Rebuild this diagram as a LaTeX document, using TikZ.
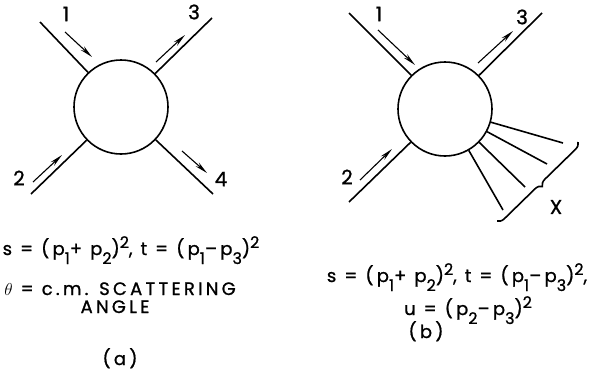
\documentclass[tikz,border=0pt]{standalone}
\usepackage{fontspec}
\setmainfont[LetterSpace=18, FakeBold=1]{Poppins}
\usepackage{tikz}
\usetikzlibrary{arrows.meta,decorations.pathreplacing}
\newcommand{\lo}[1]{\raisebox{-9pt}{\fontsize{16}{16}\selectfont #1}}
\newcommand{\hi}[1]{\raisebox{7pt}{\fontsize{16}{16}\selectfont #1}}

\begin{document}
\begin{tikzpicture}[x=1pt, y=-1pt,
    leg/.style={line width=1.6pt},
    flow/.style={line width=1.1pt, -{Stealth[length=13pt,width=5pt]}},
    blob/.style={circle, draw, line width=1.6pt, minimum size=94pt, inner sep=0pt},
    num/.style={font=\fontsize{20}{20}\selectfont, inner sep=0pt},
    eq/.style={font=\fontsize{18}{20}\selectfont, inner sep=0pt, anchor=base}]
    \useasboundingbox (0,0) rectangle (593,375);

    % (a) two body scattering
    \node[blob] (ca) at (121,107) {};
    \coordinate (a1) at (40,22);
    \coordinate (a2) at (31,194);
    \coordinate (a3) at (212,18);
    \coordinate (a4) at (213,194);
    \draw[leg] (a1) -- (ca);
    \draw[leg] (a2) -- (ca);
    \draw[leg] (a3) -- (ca);
    \draw[leg] (a4) -- (ca);

    % momentum arrows
    \coordinate (fa1s) at (65,32);  \coordinate (fa1e) at (92,57);
    \coordinate (fa2s) at (33,182); \coordinate (fa2e) at (62,155);
    \coordinate (fa3s) at (156,62); \coordinate (fa3e) at (185,35);
    \coordinate (fa4s) at (182,151);\coordinate (fa4e) at (207,173);
    \draw[flow] (fa1s) -- (fa1e);
    \draw[flow] (fa2s) -- (fa2e);
    \draw[flow] (fa3s) -- (fa3e);
    \draw[flow] (fa4s) -- (fa4e);

    \node[num] (na1) at (66,14) {1};
    \node[num] (na2) at (19,178) {2};
    \node[num] (na3) at (194,12) {3};
    \node[num] (na4) at (221,179) {4};

    % (a) text
    \node[eq] (ta1) at (131,255) {s = (p\lo{1}+ p\lo{2})\hi{2}, t = (p\lo{1}--p\lo{3})\hi{2}};
    \node[eq] (ta2) at (120,295) {$\theta$ = c.m. SCATTERING};
    \node[eq] (ta3) at (115,313) {ANGLE};
    \node[eq] (capa) at (120,365) {(a)};

    % (b) inclusive reaction
    \node[blob] (cb) at (445,109) {};
    \coordinate (b1) at (349,13);
    \coordinate (b2) at (349,202);
    \coordinate (b3) at (542,13);
    \draw[leg] (b1) -- (cb);
    \draw[leg] (b2) -- (cb);
    \draw[leg] (b3) -- (cb);

    % fan of X
    \coordinate (x1) at (563,143);
    \coordinate (x2) at (547,164);
    \coordinate (x3) at (525,187);
    \coordinate (x4) at (503,210);
    \foreach \k in {1,...,4}
        \draw[leg] (x\k) -- (cb);

    \coordinate (bt) at (578,142);
    \coordinate (bb) at (497,221);
    \draw[leg, decorate, decoration={brace, amplitude=7pt}] (bt) -- (bb);
    \node[num] (nx) at (556,207) {X};

    % momentum arrows
    \coordinate (fb1s) at (378,30);  \coordinate (fb1e) at (415,65);
    \coordinate (fb2s) at (360,180); \coordinate (fb2e) at (392,149);
    \coordinate (fb3s) at (478,63);  \coordinate (fb3e) at (513,31);
    \draw[flow] (fb1s) -- (fb1e);
    \draw[flow] (fb2s) -- (fb2e);
    \draw[flow] (fb3s) -- (fb3e);

    \node[num] (nb1) at (379,14) {1};
    \node[num] (nb2) at (347,177) {2};
    \node[num] (nb3) at (522,17) {3};

    % (b) text
    \node[eq] (tb1) at (457,282) {s = (p\lo{1}+ p\lo{2})\hi{2}, t = (p\lo{1}--p\lo{3})\hi{2},};
    \node[eq] (tb2) at (468,315) {u = (p\lo{2}--p\lo{3})\hi{2}};
    \node[eq] (capb) at (426,338) {(b)};
\end{tikzpicture}
\end{document}
